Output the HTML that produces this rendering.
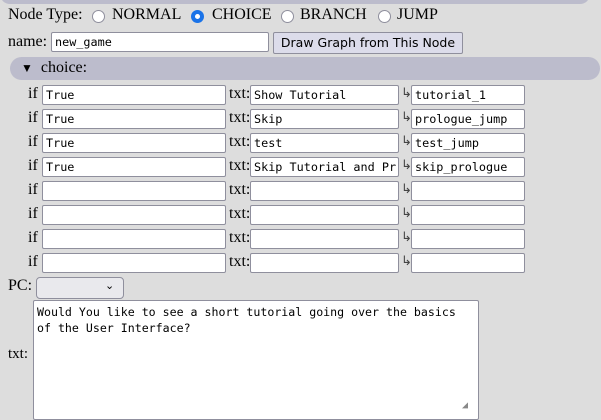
<!DOCTYPE html>
<html><head><style>
body{margin:0;width:601px;height:413px;background:#dddddd;position:relative;overflow:hidden;font-family:"Liberation Serif",serif;font-size:16px;color:#000}
.a{position:absolute}
.in{position:absolute;height:18px;background:#fff;border:1px solid #8f8f9d;border-radius:2px;font-family:"DejaVu Sans Mono","Liberation Mono",monospace;font-size:11.8px;line-height:18px;padding-left:3px;box-sizing:content-box;white-space:nowrap;overflow:hidden}
.r{position:absolute;width:11px;height:11px;border:1px solid #8f8f9d;border-radius:50%;background:#fff;top:10px}
.lb{position:absolute;font-size:16px}
.arr{position:absolute;font-family:"DejaVu Sans",sans-serif;font-size:13px;color:#444}
</style></head><body>
<div class="a" style="left:0;top:-10px;width:590px;height:14px;background:#bcbccc;border-radius:0 0 10px 10px"></div>
<div class="lb" style="left:8px;top:6px">Node Type:</div>
<div class="r" style="left:92px"></div><div class="lb" style="left:112px;top:6px">NORMAL</div>
<div class="r" style="left:191px;border:4px solid #1a73e8;width:5px;height:5px"></div><div class="lb" style="left:212px;top:6px">CHOICE</div>
<div class="r" style="left:281px"></div><div class="lb" style="left:300px;top:6px">BRANCH</div>
<div class="r" style="left:378px"></div><div class="lb" style="left:397px;top:6px">JUMP</div>
<div class="lb" style="left:8px;top:33px">name:</div>
<div class="in" style="left:51px;top:32px;width:213px">new_game</div>
<div class="a" style="left:273px;top:32px;width:188px;height:20px;background:#dcdcea;border:1px solid #8f8f9d;border-radius:2px;font-family:'DejaVu Sans',sans-serif;font-size:12.5px;line-height:20px;text-align:center">Draw Graph from This Node</div>
<div class="a" style="left:10px;top:57px;width:590px;height:23px;background:#bcbccc;border-radius:12px"></div>
<div class="lb" style="left:21px;top:59px"><span style="font-size:12px">▼</span>&nbsp; choice:</div>

<div class="lb" style="left:28px;top:85px">if</div><div class="in" style="left:42px;top:85px;width:179px">True</div><div class="lb" style="left:229px;top:85px">txt:</div><div class="in" style="left:250px;top:85px;width:144px">Show Tutorial</div><div class="arr" style="left:401px;top:86px">↳</div><div class="in" style="left:411px;top:85px;width:109px">tutorial_1</div>
<div class="lb" style="left:28px;top:109px">if</div><div class="in" style="left:42px;top:109px;width:179px">True</div><div class="lb" style="left:229px;top:109px">txt:</div><div class="in" style="left:250px;top:109px;width:144px">Skip</div><div class="arr" style="left:401px;top:110px">↳</div><div class="in" style="left:411px;top:109px;width:109px">prologue_jump</div>
<div class="lb" style="left:28px;top:133px">if</div><div class="in" style="left:42px;top:133px;width:179px">True</div><div class="lb" style="left:229px;top:133px">txt:</div><div class="in" style="left:250px;top:133px;width:144px">test</div><div class="arr" style="left:401px;top:134px">↳</div><div class="in" style="left:411px;top:133px;width:109px">test_jump</div>
<div class="lb" style="left:28px;top:157px">if</div><div class="in" style="left:42px;top:157px;width:179px">True</div><div class="lb" style="left:229px;top:157px">txt:</div><div class="in" style="left:250px;top:157px;width:144px">Skip Tutorial and Pr</div><div class="arr" style="left:401px;top:158px">↳</div><div class="in" style="left:411px;top:157px;width:109px">skip_prologue</div>
<div class="lb" style="left:28px;top:181px">if</div><div class="in" style="left:42px;top:181px;width:179px"></div><div class="lb" style="left:229px;top:181px">txt:</div><div class="in" style="left:250px;top:181px;width:144px"></div><div class="arr" style="left:401px;top:182px">↳</div><div class="in" style="left:411px;top:181px;width:109px"></div>
<div class="lb" style="left:28px;top:205px">if</div><div class="in" style="left:42px;top:205px;width:179px"></div><div class="lb" style="left:229px;top:205px">txt:</div><div class="in" style="left:250px;top:205px;width:144px"></div><div class="arr" style="left:401px;top:206px">↳</div><div class="in" style="left:411px;top:205px;width:109px"></div>
<div class="lb" style="left:28px;top:229px">if</div><div class="in" style="left:42px;top:229px;width:179px"></div><div class="lb" style="left:229px;top:229px">txt:</div><div class="in" style="left:250px;top:229px;width:144px"></div><div class="arr" style="left:401px;top:230px">↳</div><div class="in" style="left:411px;top:229px;width:109px"></div>
<div class="lb" style="left:28px;top:253px">if</div><div class="in" style="left:42px;top:253px;width:179px"></div><div class="lb" style="left:229px;top:253px">txt:</div><div class="in" style="left:250px;top:253px;width:144px"></div><div class="arr" style="left:401px;top:254px">↳</div><div class="in" style="left:411px;top:253px;width:109px"></div>

<div class="lb" style="left:8px;top:277px">PC:</div>
<div class="a" style="left:36px;top:277px;width:86px;height:20px;background:#e9e9ed;border:1px solid #8f8f9d;border-radius:4px"><span style="position:absolute;left:68px;top:1px;font-family:'DejaVu Sans',sans-serif;font-size:11px">⌄</span></div>
<div class="lb" style="left:8px;top:346px;font-size:15px">txt:</div>
<div class="a" style="left:33px;top:300px;width:446px;height:120px;background:#fff;border:1px solid #8f8f9d;border-radius:2px;font-family:'DejaVu Sans Mono','Liberation Mono',monospace;font-size:11.6px;line-height:16px;padding:3px 0 0 3px;box-sizing:border-box">Would You like to see a short tutorial going over the basics<br>of the User Interface?
<span style="position:absolute;left:428px;top:97px;font-size:10px;color:#888">◢</span></div>
</body></html>
